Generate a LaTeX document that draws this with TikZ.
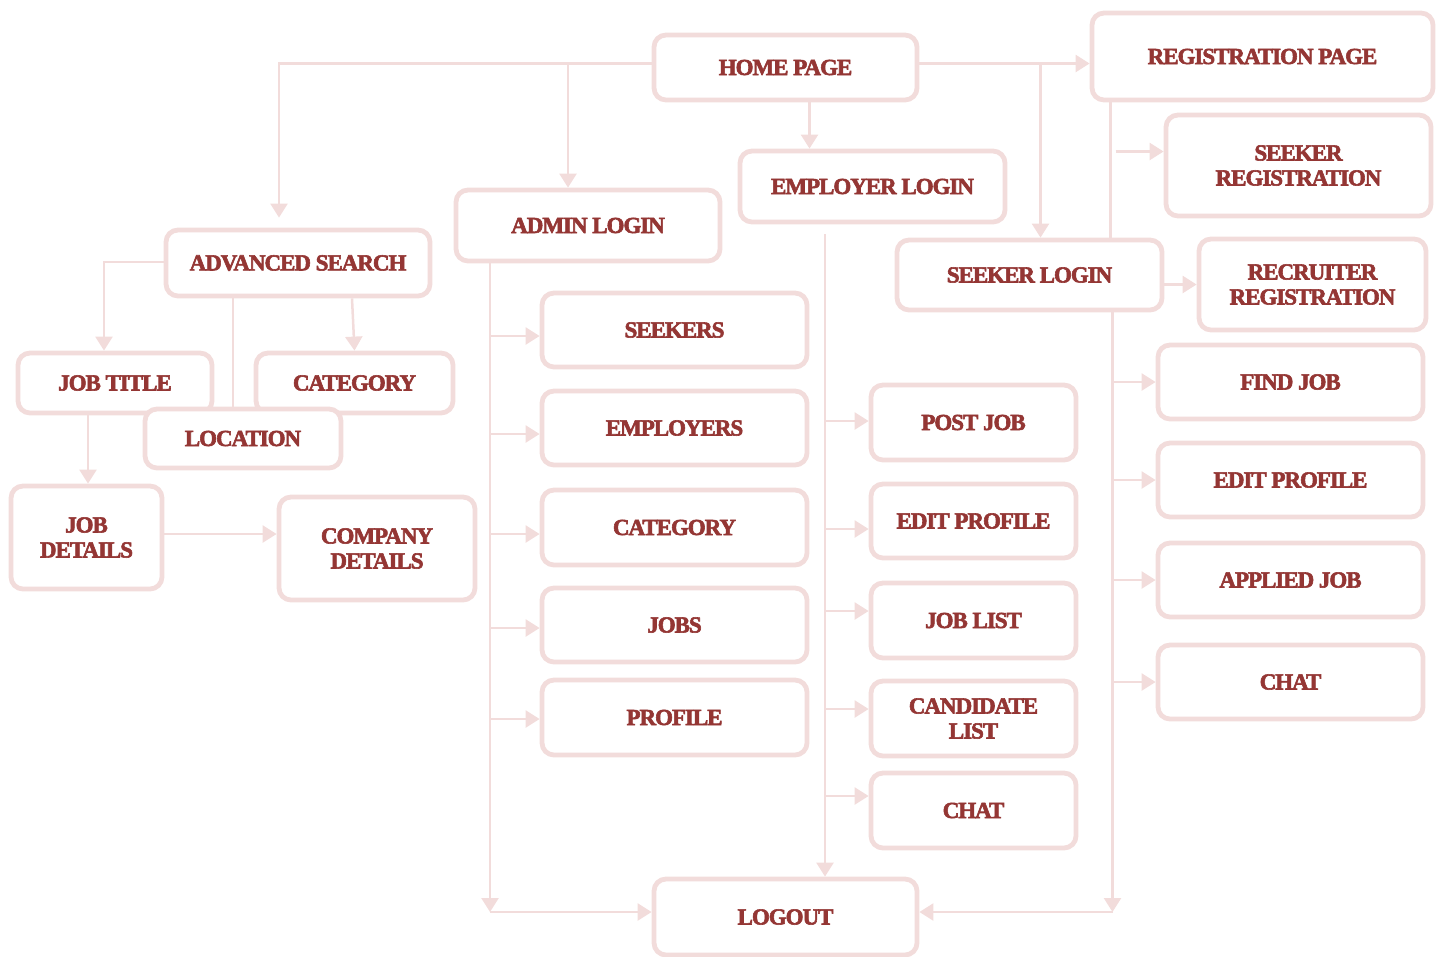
\documentclass[tikz,border=0pt]{standalone}
\usepackage{fontspec}
\newfontfamily\boxfont{Liberation Serif}[LetterSpace=-4.5,FakeBold=2.5]
\usetikzlibrary{arrows.meta}
\definecolor{boxpink}{HTML}{F2DCDB}
\definecolor{txtred}{HTML}{943634}
\tikzset{
    x=1pt, y=-1pt, % pixel-like units, y grows downwards
    box/.style={draw=boxpink, line width=4.8pt, rounded corners=12pt, fill=white,
        text=txtred, align=center, inner sep=0pt,
        font={\boxfont\bfseries\fontsize{23}{25}\selectfont}},
    link/.style={draw=boxpink, line width=2.5pt},
    arr/.style={link, -{Triangle[length=14pt,width=17pt]}}, % filled heads
}
\begin{document}
\begin{tikzpicture}
  \useasboundingbox (0,0) rectangle (1440,956);

  % top row
  \node[box,minimum width=263pt,minimum height=65pt] (home) at (785.5,67.5) {HOME PAGE};
  \node[box,minimum width=341pt,minimum height=87pt] (reg) at (1262.5,56.5) {REGISTRATION PAGE};
  \node[box,minimum width=265pt,minimum height=71pt] (emp_login) at (872.5,186.5) {EMPLOYER LOGIN};
  \node[box,minimum width=265pt,minimum height=101pt] (seek_reg) at (1298.5,165.5) {SEEKER\\REGISTRATION};
  \node[box,minimum width=264pt,minimum height=71pt] (admin) at (588,225.5) {ADMIN LOGIN};
  \node[box,minimum width=264pt,minimum height=66pt] (adv) at (298,263) {ADVANCED SEARCH};
  \node[box,minimum width=265pt,minimum height=70pt] (seek_login) at (1029.5,275) {SEEKER LOGIN};
  \node[box,minimum width=227pt,minimum height=91pt] (rec_reg) at (1312.5,284.5) {RECRUITER\\REGISTRATION};

  % search side
  \node[box,minimum width=194pt,minimum height=60pt] (jobtitle) at (115,383) {JOB TITLE};
  \node[box,minimum width=197pt,minimum height=60pt] (cat_s) at (354.5,383) {CATEGORY};
  \node[box,minimum width=196pt,minimum height=59pt] (location) at (243,438.5) {LOCATION};
  \node[box,minimum width=151pt,minimum height=103pt] (jobdet) at (86.5,537.5) {JOB\\DETAILS};
  \node[box,minimum width=196pt,minimum height=103pt] (company) at (377,548.5) {COMPANY\\DETAILS};

  % admin column
  \node[box,minimum width=265pt,minimum height=74pt] (seekers) at (674.5,330) {SEEKERS};
  \node[box,minimum width=265pt,minimum height=74pt] (employers) at (674.5,428) {EMPLOYERS};
  \node[box,minimum width=265pt,minimum height=75pt] (cat_a) at (674.5,527.5) {CATEGORY};
  \node[box,minimum width=265pt,minimum height=74pt] (jobs) at (674.5,625) {JOBS};
  \node[box,minimum width=265pt,minimum height=75pt] (profile) at (674.5,717.5) {PROFILE};

  % employer column
  \node[box,minimum width=205pt,minimum height=75pt] (postjob) at (973.5,422.5) {POST JOB};
  \node[box,minimum width=205pt,minimum height=74pt] (edit_e) at (973.5,521) {EDIT PROFILE};
  \node[box,minimum width=205pt,minimum height=75pt] (joblist) at (973.5,620.5) {JOB LIST};
  \node[box,minimum width=205pt,minimum height=75pt] (cand) at (973.5,718.5) {CANDIDATE\\LIST};
  \node[box,minimum width=205pt,minimum height=75pt] (chat_e) at (973.5,810.5) {CHAT};

  % seeker column
  \node[box,minimum width=265pt,minimum height=74pt] (findjob) at (1290.5,382) {FIND JOB};
  \node[box,minimum width=265pt,minimum height=74pt] (edit_s) at (1290.5,480) {EDIT PROFILE};
  \node[box,minimum width=265pt,minimum height=74pt] (applied) at (1290.5,580) {APPLIED JOB};
  \node[box,minimum width=265pt,minimum height=74pt] (chat_s) at (1290.5,682) {CHAT};

  \node[box,minimum width=263pt,minimum height=76pt] (logout) at (785.5,917) {LOGOUT};

  % junction points
  \coordinate (home_w) at ([yshift=4pt]home.west);
  \coordinate (home_e) at ([yshift=4pt]home.east);
  \coordinate (adv_top) at ([xshift=-19pt]adv.north);
  \coordinate (adm_top) at ([xshift=-20pt]admin.north);
  \coordinate (emp_in) at ([xshift=24pt]home.south);
  \coordinate (sl_top) at ([xshift=11pt]seek_login.north);
  \coordinate (reg_s) at ([xshift=-152pt]reg.south);
  \coordinate (sr_w) at ([yshift=14pt]seek_reg.west);
  \coordinate (sl_s) at ([xshift=83pt]seek_login.south);
  \coordinate (el_s) at ([xshift=-47.5pt]emp_login.south);
  \coordinate (al_s) at ([xshift=-98pt]admin.south);
  \coordinate (lo_e) at ([yshift=5pt]logout.east);
  \coordinate (lo_w) at ([yshift=5pt]logout.west);
  \coordinate (adv_w) at ([yshift=1pt]adv.west);
  \coordinate (jt_top) at ([xshift=-11pt]jobtitle.north);
  \coordinate (loc_in) at ([xshift=-65pt]adv.south);
  \coordinate (cat_in) at ([xshift=54pt]adv.south);
  \coordinate (jt_s) at ([xshift=-27pt]jobtitle.south);
  \coordinate (jd_e) at ([yshift=3.5pt]jobdet.east);

  % from the home page
  \draw[arr,shorten >=10pt] (home_w) -| (adv_top);
  \draw[arr] (home_w -| adm_top) -- (adm_top);
  \draw[arr] (emp_in) -- (emp_in |- emp_login.north);
  \draw[arr] (home_e) -- (home_e -| reg.west);
  \draw[arr] (home_e -| sl_top) -- (sl_top);

  % registration
  \draw[link] (reg_s) -- (reg_s |- seek_login.north);
  \draw[arr] (reg_s |- sr_w) ++(5,0) -- (sr_w);
  \draw[arr] (seek_login.east |- rec_reg.west) -- (rec_reg.west);

  % seeker login
  \draw[arr] (sl_s) -- (sl_s |- lo_e);
  \draw[arr] (sl_s |- lo_e) -- (lo_e);
  \foreach \n in {findjob,edit_s,applied,chat_s}
    \draw[arr] (sl_s |- \n.west) -- (\n.west);

  % employer login
  \draw[arr,shorten <=10pt] (el_s) -- (el_s |- logout.north);
  \foreach \n/\s in {postjob/1.5,edit_e/-8,joblist/9.5,cand/9.5,chat_e/14.5}{
    \coordinate (tmp) at ([yshift=\s pt]\n.west);
    \draw[arr] (el_s |- tmp) -- (tmp);
  }

  % admin login
  \draw[arr] (al_s) -- (al_s |- lo_w);
  \draw[arr] (al_s |- lo_w) -- (lo_w);
  \foreach \n/\s in {seekers/-6,employers/-6,cat_a/-6.5,jobs/-3,profile/-1.5}{
    \coordinate (tmp) at ([yshift=\s pt]\n.west);
    \draw[arr] (al_s |- tmp) -- (tmp);
  }

  % advanced search
  \draw[arr] (adv_w) -| (jt_top);
  \draw[link] (loc_in) -- (loc_in |- location.north);
  \draw[arr] (cat_in) -- (cat_s.north);
  \draw[arr] (jt_s) -- (jt_s |- jobdet.north);
  \draw[arr] (jd_e) -- (jd_e -| company.west);
\end{tikzpicture}
\end{document}
